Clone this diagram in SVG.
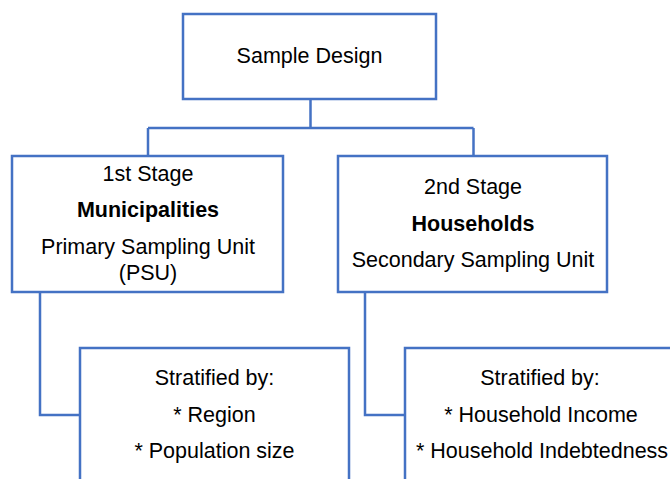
<svg xmlns="http://www.w3.org/2000/svg" width="670" height="479" viewBox="0 0 670 479">
<style>
.box{fill:#ffffff;stroke:#4472C4;stroke-width:2.5}
.conn{fill:none;stroke:#4472C4;stroke-width:2.5}
text{font-family:"Liberation Sans",Arial,sans-serif;font-size:21.5px;fill:#000;text-anchor:middle}
.b{font-weight:bold}
</style>
<rect width="670" height="479" fill="#ffffff"/>
<g id="connectors">
<path class="conn" d="M310.5,99 V128 M148,128 H473.5 M148,128 V156 M473.5,128 V156"/>
<path class="conn" d="M40,292 V415 H80"/>
<path class="conn" d="M365,292 V415 H405"/>
</g>
<g id="sample-design">
<rect class="box" x="183" y="14" width="253" height="85"/>
<text x="309.5" y="63">Sample Design</text>
</g>
<g id="stage1">
<rect class="box" x="12" y="156" width="271" height="136"/>
<text x="148" y="181">1st Stage</text>
<text class="b" x="148" y="217">Municipalities</text>
<text x="148" y="254">Primary Sampling Unit</text>
<text x="148" y="280">(PSU)</text>
</g>
<g id="stage2">
<rect class="box" x="338" y="156" width="269" height="136"/>
<text x="473" y="194">2nd Stage</text>
<text class="b" x="473" y="231">Households</text>
<text x="473" y="267">Secondary Sampling Unit</text>
</g>
<g id="strata1">
<rect class="box" x="80" y="348" width="269" height="140"/>
<text x="214.5" y="385">Stratified by:</text>
<text x="214.5" y="422">* Region</text>
<text x="214.5" y="458">* Population size</text>
</g>
<g id="strata2">
<rect class="box" x="405" y="348" width="280" height="140"/>
<text x="540" y="385">Stratified by:</text>
<text x="541" y="422">* Household Income</text>
<text x="542" y="458">* Household Indebtedness</text>
</g>
</svg>
